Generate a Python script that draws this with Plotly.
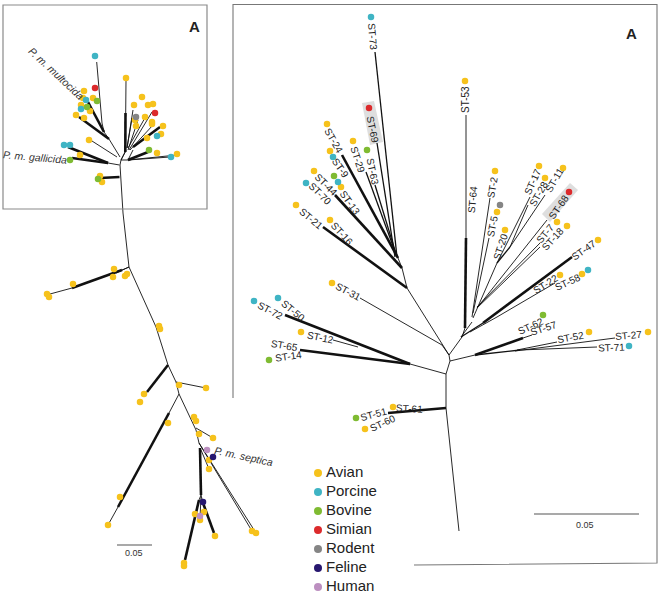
import plotly.graph_objects as go

# ---------- host positions: points (image pixel coordinates) ----------
avian_pts = [(126,78),(84,91),(93,98),(83,98),(81,105),(90,111),(76,115),(84,118),(89,140),(80,155),(100,176),(102,182),
             (142,97),(134,105),(148,105),(153,104),(145,117),(135,120),(136,126),(152,122),(152,124),(163,126),(161,134),(147,138),(157,153),(177,154),
             (114,269),(113,277),(127,274),(125,276),(73,284),(47,294),(49,297),(159,326),(160,329),(144,394),(140,402),
             (179,385),(206,388),(168,423),(120,497),(108,525),(194,417),(196,421),(199,434),(213,438),(252,531),(256,533),
             (209,469),(209,460),(204,512),(195,514),(200,520),(215,536),(184,563),(184,566),
             (353,141),(327,124),(330,151),(314,171),(341,187),(296,205),(330,220),(332,283),(465,81),
             (495,171),(497,212),(505,230),(539,166),(545,178),(563,168),(557,222),(567,226),(598,240),(560,275),(582,274),(589,332),(648,332),
             (301,332),(393,407),(365,429)]
porcine_pts = [(95,56),(86,100),(81,109),(64,145),(70,145),(157,136),(171,157),
               (371,17),(333,157),(338,182),(306,183),(588,270),(629,346),(254,301),(278,298)]
bovine_pts = [(97,101),(87,107),(70,160),(149,150),(98,179),(367,150),(334,176),(543,315),(269,360),(356,418)]
simian_pts = [(95,88),(155,113),(369,108),(569,192)]
rodent_pts = [(136,117),(500,205)]
feline_pts = [(213,457),(203,502)]
human_pts = [(207,450),(200,516)]

hosts = ["Avian","Porcine","Bovine","Simian","Rodent","Feline","Human"]
host_colors = ["#F6C21C","#3FB4C4","#7FBB32","#DC2A2C","#858585","#27176F","#BC8FC0"]
host_points = [avian_pts,porcine_pts,bovine_pts,simian_pts,rodent_pts,feline_pts,human_pts]
legend_x = [318]*7
legend_text_x = [326]*7
legend_y = [473,492,511,530,549,568,587]

# ---------- tree branches: (x0,y0,x1,y1) ----------
thin_edges = [
    (120,165,123,213),(123,213,129,267),(126,80,125.7,113),(125.3,152,121,160),(121,160,120,165),
    (120,157,109,139),(109,139,104,132),(96.7,62,102,123),(102,123,104,132),(92,141,117,157),(108,163,119.5,165),
    (127,148,133,110),(127,148,132,118),(128,150,138,120),(128,148,146,116),(129,150,152,112),(130,150,153,125),
    (128,160,133,150),(128,160,170,157),(128,160,177,155),(121,160,128,160),(126,150,121,160),
    (129,267,122,270),(72,288,50,294),(129,267,116,273),
    (129,267,156,327),(156,327,168,365),(168,365,176,382),(176,382,179,394),(179,394,196,430),(196,430,199,443),
    (147,392,144,395),(176,382,206,388),(179,394,169,413),(118,507,108,525),(196,428,213,438),
    (199,443,252,531),(199,443,256,533),(201,450,209,469),(201,497,200,518),(201,495,199,500),(201,495,203,503),
    # right tree
    (446,374,446,408),(446,408,459,531),(449,355,450,361),(450,361,446,374),(449,355,462,337),(450,361,475,355),
    (398,258,402,268),(402,268,407,288),(407,288,449,355),(360,298,442,345),(442,345,449,355),
    (446,374,410,364),(333,340,358,347),(523,338,532,335),
    (466,115,466,238),(465,328,462,337),(462,337,461,337),
    (490,198,472,317),(489,238,473,313),(497,263,473,318),(530,197,497,263),(528,205,510,247),(545,195,510,247),
    (547,220,477,308),(540,243,477,307),(540,247,477,308),(555,283,497,317),(497,317,470,332),
    (557,342,517,350),(615,338,515,351),(597,347,520,350),(461,337,472,322),
]
thick_edges = [
    (125.5,113,125.3,152),(109,139,79,117),(104,132,88,102),(68,147,108,163),(72,158,108,163),(100,178,119.5,177),
    (133,147,160,127),(128,160,148,152),
    (122,270,72,288),(168,365,147,392),(169,413,118,507),(200,448,201,495),(199,500,185,560),(203,503,214,533),
    # right tree
    (407,288,323,227),(335,195,402,268),(342,155,398,258),(410,364,285,315),(410,364,300,350),(446,408,388,413),
    (466,238,465,328),(572,257,483,323),(475,355,523,338),
]
medium_edges = [(375,52,397,257),(377,143,395,257),(366,172,397,257),(375,185,397,257),(483,323,461,337),(475,355,520,350),(510,247,497,263)]

# ---------- text ----------
st_labels = ["ST-73","ST-69","ST-24","ST-29","ST-63","ST-9","ST-44","ST-70","ST-13","ST-21","ST-16","ST-31","ST-50","ST-72",
             "ST-12","ST-65","ST-14","ST-51","ST-61","ST-60","ST-53","ST-64","ST-2","ST-5","ST-20","ST-17","ST-28","ST-11",
             "ST-68","ST-7","ST-18","ST-47","ST-22","ST-58","ST-62","ST-57","ST-52","ST-27","ST-71"]
st_x = [373,373,334,358,373,341,326,320,350,311,342,348,293,270,320,284,288,373,409,382,465,472,492,492,500,532,538,554,558,545,552,583,545,567,530,543,570,628,611]
st_y = [36,129,140,159,171,168,184,193,202,218,233,291,310,310,337,345,356,414,408,423,100,200,187,226,247,182,194,180,207,233,239,250,284,282,326,328,337,335,347]
st_angle = [85,78,60,72,78,55,45,45,55,40,48,28,40,28,12,10,-8,-15,3,-25,-90,-85,-80,-78,-72,-65,-60,-60,-55,-50,-48,-35,-32,-25,-25,-18,-10,-5,-2]

species = ["P. m. multocida","P. m. gallicida","P. m. septica"]
species_x = [56,35,243]
species_y = [73,157,456]
species_angle = [43,5,12]

def edge_xy(edges):
    xs, ys = [], []
    for x0, y0, x1, y1 in edges:
        xs += [x0, x1, None]
        ys += [y0, y1, None]
    return xs, ys

fig = go.Figure()

# panels
fig.add_shape(type="rect", x0=3, y0=5, x1=207, y1=209, line=dict(color="#8a8a8a", width=1.2))
fig.add_trace(go.Scatter(x=[233,233,657,657,414], y=[398,4.5,4.5,563,565], mode="lines",
                         line=dict(color="#777777", width=1.1), hoverinfo="skip", showlegend=False))
# grey highlights
for poly in ([(362,103),(374,101),(383,142),(370,145)], [(570,183),(578,190),(550,222),(542,214)]):
    fig.add_trace(go.Scatter(x=[p[0] for p in poly]+[poly[0][0]], y=[p[1] for p in poly]+[poly[0][1]],
                             mode="lines", fill="toself", fillcolor="#DEDEDE", line=dict(width=0),
                             hoverinfo="skip", showlegend=False))

for edges, w in ((thin_edges,0.9),(medium_edges,1.3),(thick_edges,2.6)):
    xs, ys = edge_xy(edges)
    fig.add_trace(go.Scatter(x=xs, y=ys, mode="lines", line=dict(color="#111111", width=w),
                             hoverinfo="skip", showlegend=False))

# scale bars
fig.add_trace(go.Scatter(x=[117,152,None,534,639], y=[545,545,None,514,514], mode="lines",
                         line=dict(color="#555555", width=1.2), hoverinfo="skip", showlegend=False))

for name, color, pts in zip(hosts, host_colors, host_points):
    fig.add_trace(go.Scatter(x=[p[0] for p in pts], y=[p[1] for p in pts], mode="markers", name=name,
                             marker=dict(color=color, size=6.5), showlegend=False))

# legend key
fig.add_trace(go.Scatter(x=legend_x, y=legend_y, mode="markers",
                         marker=dict(color=host_colors, size=8), hoverinfo="skip", showlegend=False, cliponaxis=False))
fig.add_trace(go.Scatter(x=legend_text_x, y=legend_y, mode="text", text=hosts, textposition="middle right",
                         textfont=dict(family="Liberation Sans, Arial", size=15, color="#222222"),
                         hoverinfo="skip", showlegend=False, cliponaxis=False))

annotations = []
for t, x, y, a in zip(st_labels, st_x, st_y, st_angle):
    annotations.append(dict(x=x, y=y, text=t, textangle=a, showarrow=False, xanchor="center", yanchor="middle",
                            font=dict(family="Liberation Sans, Arial", size=10, color="#222222")))
for t, x, y, a in zip(species, species_x, species_y, species_angle):
    annotations.append(dict(x=x, y=y, text="<i>%s</i>" % t, textangle=a, showarrow=False, xanchor="center", yanchor="middle",
                            font=dict(family="Liberation Sans, Arial", size=10.5, color="#333333")))
for t, x, y, s in (("A",194,26,15),("A",631,33,15)):
    annotations.append(dict(x=x, y=y, text="<b>%s</b>" % t, showarrow=False, xanchor="center", yanchor="middle",
                            font=dict(family="Liberation Sans, Arial", size=s, color="#222222")))
for x, y in ((134,553),(585,525)):
    annotations.append(dict(x=x, y=y, text="0.05", showarrow=False, xanchor="center", yanchor="middle",
                            font=dict(family="Liberation Sans, Arial", size=9, color="#333333")))

fig.update_layout(width=661, height=596, margin=dict(l=0,r=0,t=0,b=0), paper_bgcolor="white", plot_bgcolor="white",
                  xaxis=dict(range=[0,661], visible=False, fixedrange=True),
                  yaxis=dict(range=[596,0], visible=False, fixedrange=True),
                  annotations=annotations, showlegend=False)
fig.write_html("out.html", config=dict(displayModeBar=False),
               post_script="document.body.style.margin='0';document.documentElement.style.overflow='hidden';")
